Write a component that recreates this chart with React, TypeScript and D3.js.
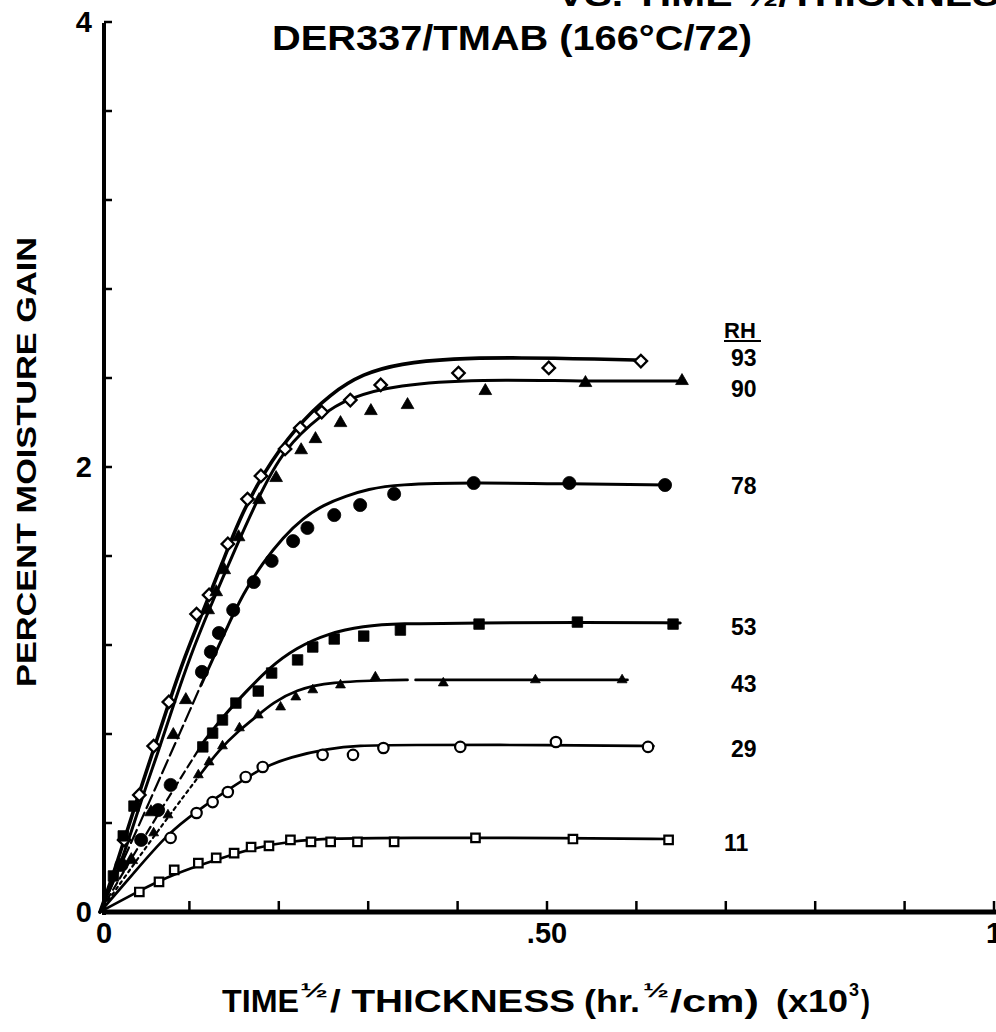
import React from 'react';
import * as d3 from 'd3';

// ---------- data ----------
const xTickValues = [0.1, 0.2, 0.3, 0.4, 0.5, 0.6, 0.7, 0.8, 0.9, 1.0];
const yTickValues = [0.4, 0.8, 1.2, 1.6, 2.0, 2.4, 2.8, 3.2, 3.6, 4.0];
const xLabelValues = [0, 0.5, 1];
const xLabelTexts = ['0', '.50', '1'];
const yLabelValues = [0, 2, 4];
const yLabelTexts = ['0', '2', '4'];
const rhLabels = ['93', '90', '78', '53', '43', '29', '11'];

type P = [number, number];

// fitted curves (solid lines)
const curve93: P[] = [[0, 0], [0.02, 0.23], [0.04, 0.49], [0.06, 0.73], [0.077, 0.94], [0.095, 1.15], [0.115, 1.35], [0.137, 1.57], [0.155, 1.76], [0.182, 1.97], [0.219, 2.18], [0.258, 2.33], [0.294, 2.42], [0.336, 2.465], [0.392, 2.488], [0.47, 2.492], [0.56, 2.485], [0.606, 2.48]];
const curve90: P[] = [[0, 0], [0.025, 0.23], [0.045, 0.49], [0.066, 0.73], [0.083, 0.94], [0.101, 1.15], [0.121, 1.35], [0.152, 1.64], [0.178, 1.87], [0.205, 2.08], [0.249, 2.24], [0.278, 2.31], [0.331, 2.37], [0.426, 2.395], [0.537, 2.385], [0.651, 2.387]];
const curve78: P[] = [[0, 0], [0.057, 0.51], [0.113, 1.02], [0.141, 1.27], [0.16, 1.43], [0.182, 1.57], [0.205, 1.685], [0.227, 1.77], [0.25, 1.83], [0.275, 1.87], [0.3, 1.9], [0.331, 1.922], [0.418, 1.93], [0.525, 1.924], [0.632, 1.919]];
const curve53: P[] = [[0, 0], [0.057, 0.39], [0.115, 0.76], [0.137, 0.876], [0.163, 0.989], [0.189, 1.097], [0.219, 1.187], [0.256, 1.254], [0.295, 1.285], [0.331, 1.297], [0.424, 1.298], [0.534, 1.303], [0.649, 1.299]];
const curve43: P[] = [[0, 0], [0.057, 0.324], [0.11, 0.607], [0.133, 0.728], [0.156, 0.818], [0.177, 0.885], [0.193, 0.939], [0.219, 0.998], [0.256, 1.034], [0.331, 1.043], [0.344, 1.043], [0.353, 1.043], [0.59, 1.043]];
const curve43Gap: P = [0.344, 0.353];
const curve29: P[] = [[0, 0], [0.035, 0.162], [0.076, 0.355], [0.11, 0.458], [0.143, 0.548], [0.18, 0.647], [0.213, 0.697], [0.256, 0.735], [0.29, 0.748], [0.331, 0.751], [0.51, 0.751], [0.619, 0.746]];
const curve11: P[] = [[0, 0], [0.035, 0.076], [0.065, 0.139], [0.102, 0.198], [0.139, 0.247], [0.177, 0.292], [0.213, 0.318], [0.258, 0.331], [0.329, 0.334], [0.529, 0.333], [0.636, 0.328]];

// measured points
const points93: P[] = [[0.027, 0.324], [0.044, 0.526], [0.06, 0.746], [0.077, 0.944], [0.108, 1.339], [0.122, 1.425], [0.143, 1.654], [0.165, 1.856], [0.18, 1.96], [0.207, 2.081], [0.224, 2.175], [0.248, 2.247], [0.28, 2.301], [0.314, 2.369], [0.401, 2.422], [0.502, 2.445], [0.605, 2.476]];
const points90: P[] = [[0.035, 0.234], [0.057, 0.449], [0.082, 0.796], [0.096, 0.953], [0.121, 1.357], [0.13, 1.438], [0.139, 1.537], [0.155, 1.685], [0.178, 1.852], [0.197, 1.951], [0.225, 2.076], [0.241, 2.126], [0.269, 2.198], [0.303, 2.252], [0.344, 2.279], [0.431, 2.342], [0.543, 2.378], [0.651, 2.387]];
const points78: P[] = [[0.024, 0.211], [0.046, 0.324], [0.065, 0.458], [0.079, 0.571], [0.114, 1.079], [0.124, 1.169], [0.133, 1.254], [0.149, 1.357], [0.172, 1.483], [0.192, 1.578], [0.216, 1.667], [0.232, 1.726], [0.262, 1.784], [0.291, 1.829], [0.329, 1.879], [0.418, 1.928], [0.525, 1.928], [0.632, 1.919]];
const points53: P[] = [[0.015, 0.162], [0.026, 0.342], [0.038, 0.476], [0.115, 0.742], [0.126, 0.804], [0.137, 0.863], [0.152, 0.939], [0.177, 0.993], [0.192, 1.074], [0.221, 1.133], [0.238, 1.191], [0.262, 1.227], [0.295, 1.24], [0.336, 1.267], [0.424, 1.294], [0.534, 1.303], [0.641, 1.294]];
const points43: P[] = [[0.06, 0.355], [0.076, 0.436], [0.11, 0.616], [0.122, 0.674], [0.137, 0.746], [0.156, 0.827], [0.177, 0.885], [0.202, 0.921], [0.219, 0.966], [0.238, 0.998], [0.269, 1.02], [0.308, 1.056], [0.384, 1.029], [0.487, 1.043], [0.584, 1.043]];
const points29: P[] = [[0.079, 0.333], [0.108, 0.445], [0.126, 0.494], [0.143, 0.539], [0.163, 0.607], [0.182, 0.652], [0.249, 0.706], [0.283, 0.706], [0.317, 0.737], [0.403, 0.742], [0.51, 0.764], [0.613, 0.742]];
const points11: P[] = [[0.044, 0.09], [0.066, 0.135], [0.083, 0.189], [0.11, 0.22], [0.13, 0.243], [0.15, 0.265], [0.169, 0.292], [0.189, 0.297], [0.213, 0.324], [0.236, 0.315], [0.258, 0.315], [0.288, 0.315], [0.329, 0.315], [0.42, 0.333], [0.529, 0.328], [0.636, 0.324]];

// ---------- layout ----------
const W = 996;
const H = 1032;
const FONT = '"Liberation Sans", Arial, Helvetica, sans-serif';

const x = d3.scaleLinear().domain([0, 1]).range([100, 994]);
const y = d3.scaleLinear().domain([0, 4]).range([912, 22]);

const line = d3
  .line<P>()
  .x((d) => x(d[0]))
  .y((d) => y(d[1]))
  .curve(d3.curveBasis);

type MarkerStyle = { type: d3.SymbolType; size: number; fill: string; rotate?: number; sw?: number };

const series = [
  { curve: curve93, pts: points93, marker: { type: d3.symbolSquare, size: 78, fill: '#fff', rotate: 45, sw: 2.3 } as MarkerStyle, dashUntil: 0, dash: '', width: 3.6 },
  { curve: curve90, pts: points90, marker: { type: d3.symbolTriangle, size: 70, fill: '#000' } as MarkerStyle, dashUntil: 0, dash: '', width: 3 },
  { curve: curve78, pts: points78, marker: { type: d3.symbolCircle, size: 135, fill: '#000' } as MarkerStyle, dashUntil: 0.113, dash: '14 5', width: 3 },
  { curve: curve53, pts: points53, marker: { type: d3.symbolSquare, size: 110, fill: '#000' } as MarkerStyle, dashUntil: 0.115, dash: '8 5', width: 3 },
  { curve: curve43, pts: points43, marker: { type: d3.symbolTriangle, size: 42, fill: '#000' } as MarkerStyle, dashUntil: 0.11, dash: '3 4', width: 2.7 },
  { curve: curve29, pts: points29, marker: { type: d3.symbolCircle, size: 85, fill: '#fff', sw: 2.2 } as MarkerStyle, dashUntil: 0, dash: '', width: 2.7 },
  { curve: curve11, pts: points11, marker: { type: d3.symbolSquare, size: 72, fill: '#fff', sw: 2.2 } as MarkerStyle, dashUntil: 0, dash: '', width: 2.7 },
];

const labelOffsets = [6, 16, 9, 12, 12, 11, 12];

function splitCurve(s: (typeof series)[number], idx: number) {
  const segs: { pts: P[]; dash: string }[] = [];
  let pts = s.curve;
  if (s.dashUntil > 0) {
    const lead = pts.filter((p) => p[0] <= s.dashUntil);
    const rest = pts.filter((p) => p[0] >= s.dashUntil);
    segs.push({ pts: lead, dash: s.dash });
    pts = rest;
  }
  if (idx === 4) {
    segs.push({ pts: pts.filter((p) => p[0] <= curve43Gap[0]), dash: '' });
    segs.push({ pts: pts.filter((p) => p[0] >= curve43Gap[1]), dash: '' });
  } else {
    segs.push({ pts, dash: '' });
  }
  return segs;
}

export default function App() {
  const axisX = 104;
  return (
    <svg
      width={W}
      height={H}
      viewBox={`0 0 ${W} ${H}`}
      style={{ position: 'absolute', left: 0, top: 0, background: '#fff' }}
      fontFamily={FONT}
      fontWeight="bold"
    >
      <rect x={0} y={0} width={W} height={H} fill="#fff" />

      {/* clipped running head at very top */}
      <text x={557} y={6} fontSize={34} textLength={470} lengthAdjust="spacingAndGlyphs">
        VS. TIME ½/THICKNESS
      </text>

      {/* title */}
      <text x={272} y={50} fontSize={35} textLength={480} lengthAdjust="spacingAndGlyphs">
        DER337/TMAB (166°C/72)
      </text>

      {/* axes */}
      <line x1={axisX} y1={y(4) + 1} x2={axisX} y2={y(0) + 3} stroke="#000" strokeWidth={4} />
      <line x1={axisX - 2} y1={y(0)} x2={996} y2={y(0)} stroke="#000" strokeWidth={5} />

      {yTickValues.map((v) => (
        <line key={'yt' + v} x1={axisX} x2={axisX + 8} y1={y(v)} y2={y(v)} stroke="#000" strokeWidth={2.5} />
      ))}
      {xTickValues.map((v) => (
        <line key={'xt' + v} x1={x(v)} x2={x(v)} y1={y(0)} y2={y(0) - 11} stroke="#000" strokeWidth={2.5} />
      ))}

      {yLabelValues.map((v, i) => (
        <text key={'yl' + v} x={92} y={y(v) + 10} fontSize={29} textAnchor="end">
          {yLabelTexts[i]}
        </text>
      ))}
      {xLabelValues.map((v, i) => (
        <text key={'xl' + v} x={x(v) + (i === 0 ? 4 : 0)} y={943} fontSize={29} textAnchor="middle">
          {xLabelTexts[i]}
        </text>
      ))}

      {/* axis titles */}
      <text
        transform="translate(36,462) rotate(-90)"
        textAnchor="middle"
        fontSize={28}
        textLength={450}
        lengthAdjust="spacingAndGlyphs"
      >
        PERCENT MOISTURE GAIN
      </text>

      <g fontSize={31}>
        <text x={222} y={1012} textLength={77} lengthAdjust="spacingAndGlyphs">TIME</text>
        <text x={300} y={997} fontSize={20} textLength={28} lengthAdjust="spacingAndGlyphs">½</text>
        <text x={330} y={1012} textLength={245} lengthAdjust="spacingAndGlyphs">/ THICKNESS</text>
        <text x={584} y={1012} textLength={56} lengthAdjust="spacingAndGlyphs">(hr.</text>
        <text x={643} y={997} fontSize={20} textLength={26} lengthAdjust="spacingAndGlyphs">½</text>
        <text x={670} y={1012} textLength={89} lengthAdjust="spacingAndGlyphs">/cm)</text>
        <text x={776} y={1012} textLength={72} lengthAdjust="spacingAndGlyphs">(x10</text>
        <text x={849} y={996} fontSize={18}>3</text>
        <text x={861} y={1012} textLength={9} lengthAdjust="spacingAndGlyphs">)</text>
      </g>

      {/* curves */}
      {series.map((s, i) =>
        splitCurve(s, i).map((seg, j) => (
          <path
            key={`c${i}-${j}`}
            d={line(seg.pts) || ''}
            fill="none"
            stroke="#000"
            strokeWidth={seg.dash ? 2.2 : s.width}
            strokeDasharray={seg.dash || undefined}
            strokeLinecap="round"
          />
        ))
      )}

      {/* markers */}
      {series.map((s, i) => {
        const m = s.marker;
        const d = d3.symbol().type(m.type).size(m.size)() || '';
        return (
          <g key={'m' + i}>
            {s.pts.map((p, k) => (
              <path
                key={k}
                d={d}
                transform={`translate(${x(p[0])},${y(p[1])})${m.rotate ? ` rotate(${m.rotate})` : ''}`}
                fill={m.fill}
                stroke="#000"
                strokeWidth={m.fill === '#fff' ? m.sw || 2 : 0.8}
              />
            ))}
          </g>
        );
      })}

      {/* RH legend */}
      <text x={724} y={338} fontSize={22}>RH</text>
      <line x1={724} x2={761} y1={341} y2={341} stroke="#000" strokeWidth={2} />
      {series.map((s, i) => {
        const last = s.curve[s.curve.length - 1];
        return (
          <text key={'rh' + i} x={i === 6 ? 724 : 731} y={y(last[1]) + labelOffsets[i]} fontSize={23}>
            {rhLabels[i]}
          </text>
        );
      })}
    </svg>
  );
}
